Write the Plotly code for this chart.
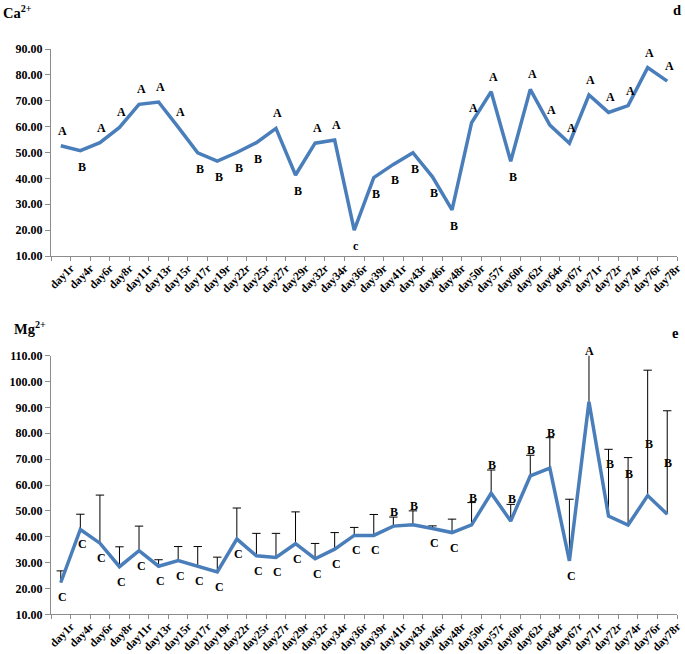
import plotly.graph_objects as go
from plotly.subplots import make_subplots

categories = ["day1r", "day4r", "day6r", "day8r", "day11r", "day13r", "day15r", "day17r",
              "day19r", "day22r", "day25r", "day27r", "day29r", "day32r", "day34r", "day36r",
              "day39r", "day41r", "day43r", "day46r", "day48r", "day50r", "day57r", "day60r",
              "day62r", "day64r", "day67r", "day71r", "day72r", "day74r", "day76r", "day78r"]

ca_values = [52.6, 50.7, 53.8, 59.7, 68.6, 69.5, 59.8, 49.9, 46.7, 50.0, 53.8, 59.3,
             41.3, 53.6, 54.8, 20.0, 40.3, 45.4, 49.9, 40.6, 27.8, 61.5, 73.5, 46.6,
             74.4, 60.6, 53.6, 72.2, 65.5, 68.1, 82.8, 77.6]
ca_letters = ["A", "B", "A", "A", "A", "A", "A", "B", "B", "B", "B", "A", "B", "A", "A", "c",
              "B", "B", "B", "B", "B", "A", "A", "B", "A", "A", "A", "A", "A", "A", "A", "A"]

mg_values = [22.3, 42.8, 37.5, 28.4, 34.6, 28.6, 30.8, 28.6, 26.4, 39.1, 32.6, 32.0,
             37.3, 31.5, 35.2, 40.5, 40.5, 44.1, 44.6, 43.2, 41.6, 44.6, 56.8, 46.1,
             63.5, 66.5, 30.7, 92.2, 48.0, 44.5, 55.9, 48.7]
mg_sd = [4.5, 5.9, 18.6, 7.7, 9.5, 2.5, 5.4, 7.6, 5.7, 12.0, 8.7, 9.3,
         12.3, 5.9, 6.4, 3.1, 8.1, 3.5, 5.4, 1.0, 5.2, 8.6, 9.0, 6.4,
         8.0, 11.8, 23.8, 18.5, 25.8, 26.1, 48.5, 40.0]
mg_letters = ["C", "C", "C", "C", "C", "C", "C", "C", "C", "C", "C", "C", "C", "C", "C", "C",
              "C", "B", "B", "C", "C", "B", "B", "B", "B", "B", "C", "A", "B", "B", "B", "B"]

ca_ticks = [10, 20, 30, 40, 50, 60, 70, 80, 90]
mg_ticks = [10, 20, 30, 40, 50, 60, 70, 80, 90, 100, 110]

W, H = 685, 654
L, R = 51, 8
PW = W - L - R
FONT = "Liberation Serif"
LINE_COLOR = "#4A7EBB"
AXIS_COLOR = "#8C8C8C"
MG_MAX = 110
X_RANGE = [-0.5, len(categories) - 0.5]

fig = make_subplots(rows=2, cols=1, shared_xaxes=False, vertical_spacing=0.1)

# Ca line
fig.add_trace(go.Scatter(x=categories, y=ca_values, mode="lines",
                         line=dict(color=LINE_COLOR, width=3.5), showlegend=False,
                         hoverinfo="x+y"), row=1, col=1)

# Mg error stems (upper only, no caps), drawn under the line
fig.add_trace(go.Scatter(x=categories, y=mg_values, mode="markers",
                         marker=dict(size=1, opacity=0),
                         error_y=dict(type="data", symmetric=False, array=mg_sd,
                                      arrayminus=[0] * len(mg_sd), color="black",
                                      thickness=1, width=0),
                         showlegend=False, hoverinfo="skip"), row=2, col=1)
# upper caps
mg_top = [v + s for v, s in zip(mg_values, mg_sd)]
fig.add_trace(go.Scatter(x=categories, y=mg_top, mode="markers",
                         marker=dict(symbol="line-ew", size=6, color="black",
                                     line=dict(color="black", width=1)),
                         cliponaxis=True, showlegend=False, hoverinfo="skip"), row=2, col=1)
fig.add_trace(go.Scatter(x=categories, y=mg_values, mode="lines",
                         line=dict(color=LINE_COLOR, width=3.5), showlegend=False,
                         hoverinfo="x+y"), row=2, col=1)

annotations = []
letter_font = dict(family=FONT, size=12, color="black")
for c, v, t in zip(categories, ca_values, ca_letters):
    above = t == "A"
    annotations.append(dict(x=c, y=v, xref="x", yref="y", text="<b>%s</b>" % t,
                            showarrow=False, font=letter_font,
                            yshift=15 if above else -16, xshift=2))
for c, v, s, t in zip(categories, mg_values, mg_sd, mg_letters):
    if t == "C":
        annotations.append(dict(x=c, y=v, xref="x2", yref="y2", text="<b>%s</b>" % t,
                                showarrow=False, font=letter_font, yshift=-15, xshift=2))
    else:
        ly = min(v + s, v + 18, MG_MAX)
        annotations.append(dict(x=c, y=ly, xref="x2", yref="y2",
                                text="<b>%s</b>" % t, showarrow=False, font=letter_font,
                                yshift=5, xshift=1))


def px_x(p):
    return (p - L) / PW


def px_y(p):
    return 1 - p / H


title_font = dict(family=FONT, size=14.5, color="black")
annotations += [
    dict(x=px_x(1), y=px_y(12), xref="paper", yref="paper", xanchor="left", yanchor="middle",
         text="<b>Ca<sup>2+</sup></b>", showarrow=False, font=title_font),
    dict(x=px_x(677), y=px_y(10), xref="paper", yref="paper", xanchor="center", yanchor="middle",
         text="<b>d</b>", showarrow=False, font=title_font),
    dict(x=px_x(12), y=px_y(328), xref="paper", yref="paper", xanchor="left", yanchor="middle",
         text="<b>Mg<sup>2+</sup></b>", showarrow=False, font=title_font),
    dict(x=px_x(675), y=px_y(333), xref="paper", yref="paper", xanchor="center", yanchor="middle",
         text="<b>e</b>", showarrow=False, font=title_font),
]

xaxis_common = dict(type="category", range=X_RANGE, autorange=False,
                     showgrid=False, zeroline=False, showline=True,
                     linecolor=AXIS_COLOR, linewidth=1, ticks="outside", tickson="boundaries",
                     ticklen=4, tickcolor=AXIS_COLOR, tickangle=-45,
                     ticklabelshift=10, ticklabelstandoff=0,
                     tickfont=dict(family=FONT, size=11.5, color="black", weight="bold"),
                     automargin=False, fixedrange=True)
yaxis_common = dict(showgrid=False, zeroline=False, showline=True, linecolor=AXIS_COLOR,
                    linewidth=1, ticks="outside", ticklen=5, tickcolor=AXIS_COLOR,
                    tickformat=".2f",
                    tickfont=dict(family=FONT, size=12, color="black", weight="bold"),
                    automargin=False, fixedrange=True)

fig.update_layout(
    width=W, height=H,
    margin=dict(l=L, r=R, t=0, b=0),
    paper_bgcolor="white", plot_bgcolor="white",
    showlegend=False,
    annotations=annotations,
    xaxis=dict(xaxis_common, domain=[0, 1]),
    xaxis2=dict(xaxis_common, domain=[0, 1]),
    yaxis=dict(yaxis_common, range=[10, 90], tickvals=ca_ticks,
               domain=[px_y(256), px_y(49)]),
    yaxis2=dict(yaxis_common, range=[10, MG_MAX], tickvals=mg_ticks,
                domain=[px_y(614.3), px_y(355.7)]),
)

fig.write_html("out.html", config={"displayModeBar": False},
               post_script=["document.body.style.margin='0px';"
                            "document.body.style.overflow='hidden';"])
